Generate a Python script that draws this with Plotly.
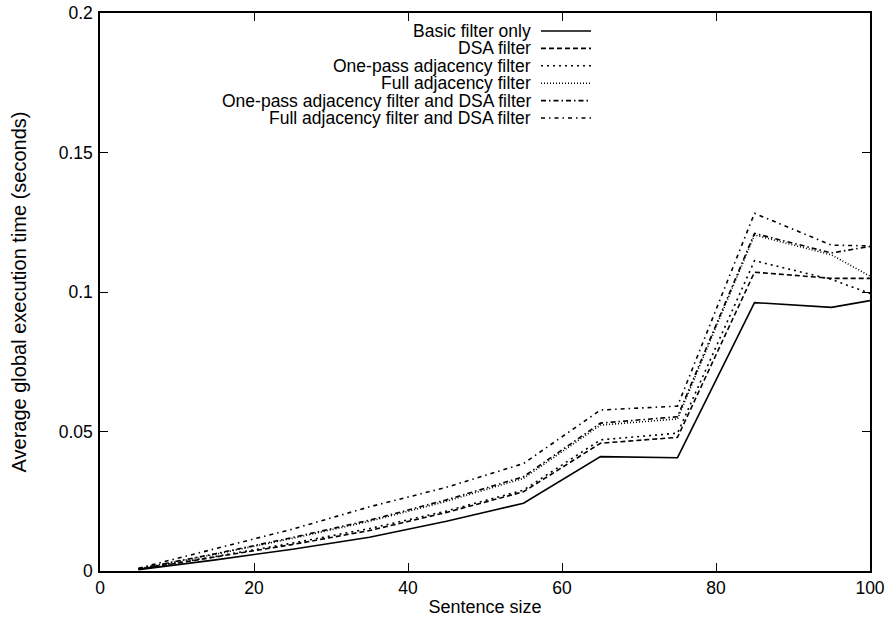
import plotly.graph_objects as go

sentence_size = [5, 15, 25, 35, 45, 55, 65, 75, 85, 95, 100]

series_names = [
    "Basic filter only",
    "DSA filter",
    "One-pass adjacency filter",
    "Full adjacency filter",
    "One-pass adjacency filter and DSA filter",
    "Full adjacency filter and DSA filter",
]

basic = [0.0005, 0.0040, 0.0078, 0.0121, 0.0178, 0.0243, 0.0410, 0.0406, 0.0962, 0.0945, 0.0969]
dsa = [0.0006, 0.0050, 0.0095, 0.0145, 0.0210, 0.0284, 0.0458, 0.0479, 0.1071, 0.1049, 0.1049]
one_pass = [0.0007, 0.0052, 0.0100, 0.0152, 0.0215, 0.0290, 0.0470, 0.0494, 0.1112, 0.1045, 0.0995]
full_adj = [0.0008, 0.0060, 0.0117, 0.0178, 0.0250, 0.0332, 0.0523, 0.0545, 0.1204, 0.1133, 0.1057]
one_pass_dsa = [0.0008, 0.0062, 0.0120, 0.0182, 0.0255, 0.0338, 0.0530, 0.0553, 0.1210, 0.1140, 0.1163]
full_adj_dsa = [0.0010, 0.0080, 0.0150, 0.0230, 0.0300, 0.0385, 0.0577, 0.0591, 0.1282, 0.1168, 0.1165]

all_values = [basic, dsa, one_pass, full_adj, one_pass_dsa, full_adj_dsa]
dashes = ["solid", "5px,3px", "2px,4px", "1px,2px", "5px,3px,1.5px,3px", "4px,4px,1.5px,4px"]

x_ticks = [0, 20, 40, 60, 80, 100]
y_ticks = [0, 0.05, 0.1, 0.15, 0.2]
y_tick_labels = ["0", "0.05", "0.1", "0.15", "0.2"]

FONT = "Liberation Sans, Arial, Helvetica, sans-serif"
FS = 17.5

fig = go.Figure()
for name, vals, dash in zip(series_names, all_values, dashes):
    fig.add_trace(go.Scatter(
        x=sentence_size, y=vals, mode="lines", name=name,
        line=dict(color="black", width=1.6, dash=dash),
        showlegend=False,
    ))

# custom legend (text left of sample line, right-aligned), like gnuplot
plot_left, plot_right, plot_top, plot_bottom = 100, 870, 13, 571
pw, ph = plot_right - plot_left, plot_bottom - plot_top
text_right = (532 - plot_left) / pw
line_x0 = (541 - plot_left) / pw
line_x1 = (591 - plot_left) / pw
for i, (name, dash) in enumerate(zip(series_names, dashes)):
    ypix = 31 + i * 17.4
    yp = (plot_bottom - ypix) / ph
    fig.add_annotation(x=text_right, y=yp, xref="paper", yref="paper",
                       text=name, showarrow=False, xanchor="right", yanchor="middle",
                       font=dict(family=FONT, size=17.5, color="black"), borderpad=0)
    fig.add_shape(type="line", xref="paper", yref="paper",
                  x0=line_x0, x1=line_x1, y0=yp, y1=yp,
                  line=dict(color="black", width=1.6, dash=dash))

axis_common = dict(
    showgrid=False, zeroline=False, showline=True, linecolor="black", linewidth=1.5,
    mirror="ticks", ticks="inside", ticklen=8, tickcolor="black", tickwidth=1,
    tickfont=dict(family=FONT, size=FS, color="black"), automargin=False,
)

fig.update_xaxes(range=[0, 100], tickvals=x_ticks,
                 title=dict(text="Sentence size", font=dict(family=FONT, size=18, color="black"), standoff=4),
                 **axis_common)
fig.update_yaxes(range=[0, 0.2], tickvals=y_ticks, ticktext=y_tick_labels, ticklabelstandoff=2,
                 title=dict(text="Average global execution time (seconds)",
                            font=dict(family=FONT, size=20, color="black"), standoff=27),
                 **axis_common)

fig.update_layout(
    width=892, height=627,
    margin=dict(l=100, r=22, t=13, b=56),
    paper_bgcolor="white", plot_bgcolor="white",
    font=dict(family=FONT, size=FS, color="black"),
)

fig.write_html("out.html", config={"displayModeBar": False},
               post_script="document.body.style.margin='0';")
